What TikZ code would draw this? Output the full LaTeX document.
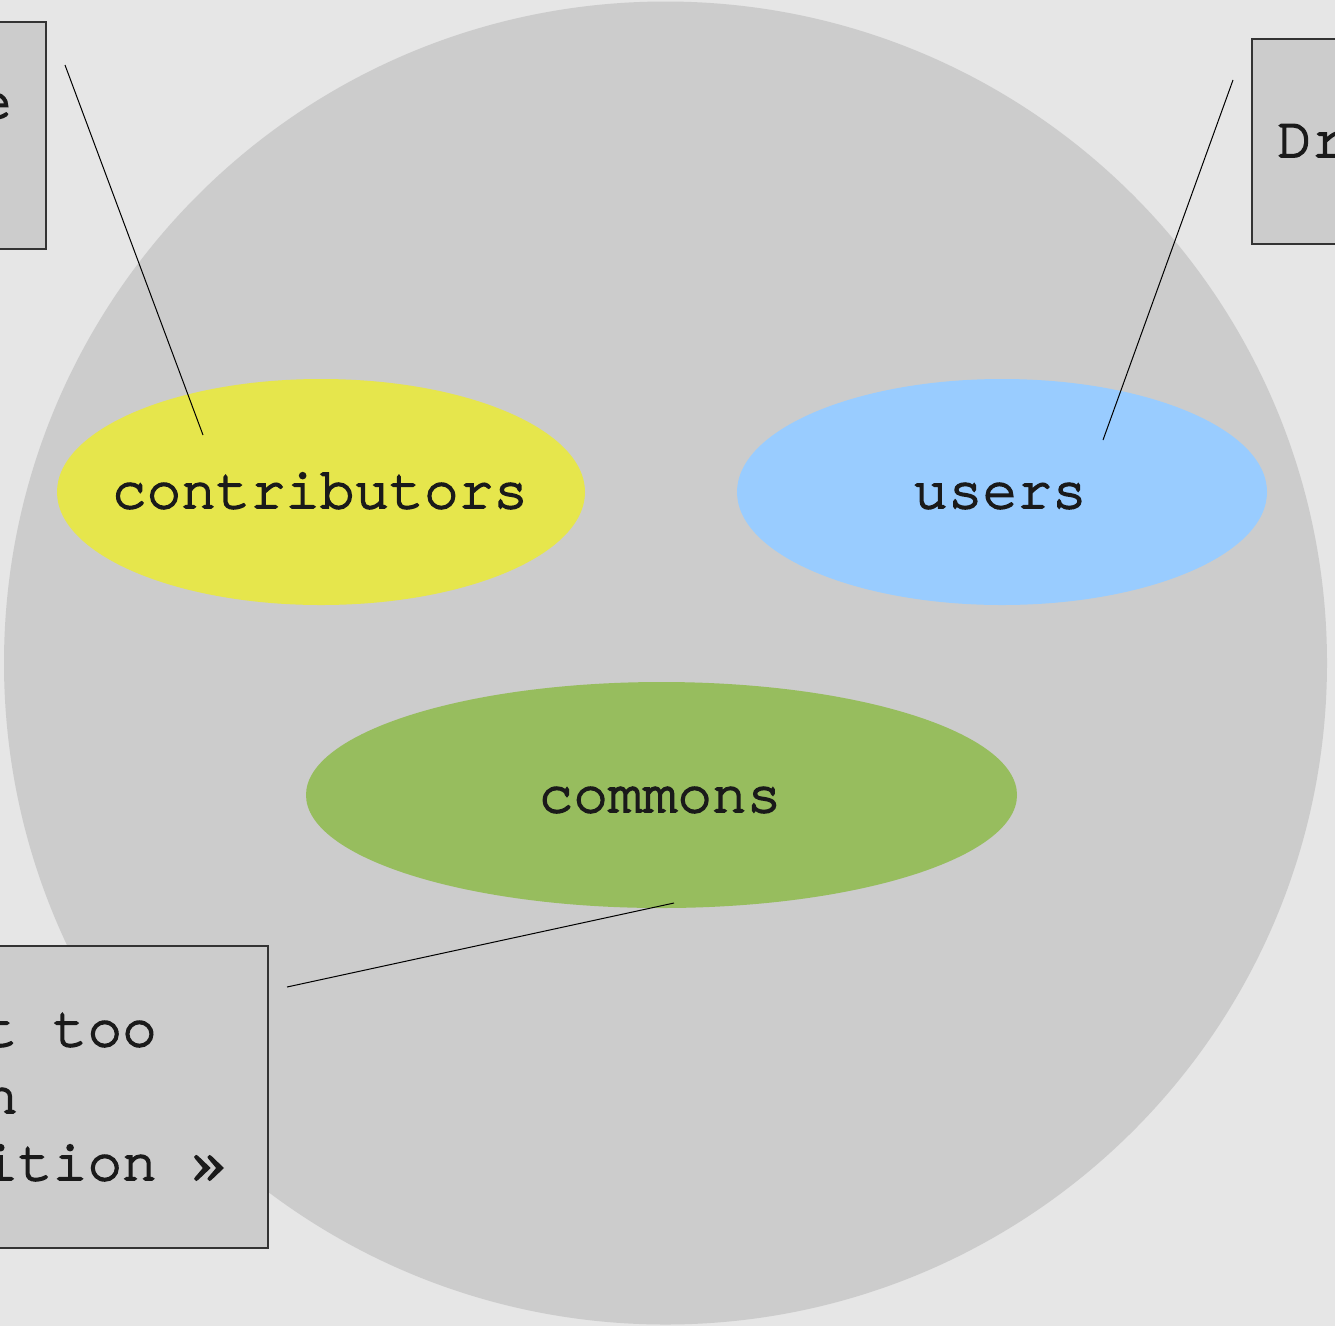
\documentclass[tikz,border=0pt]{standalone}
\usepackage{fontspec}
\newfontfamily\labelfont[FakeBold=3]{TeX Gyre Cursor}
\definecolor{pagebg}{HTML}{E6E6E6}
\definecolor{disc}{HTML}{CCCCCC}
\definecolor{contribfill}{HTML}{E6E64C}
\definecolor{usersfill}{HTML}{99CCFF}
\definecolor{commonsfill}{HTML}{97BD5E}
\definecolor{ink}{HTML}{1A1A1A}
\definecolor{boxline}{HTML}{333333}
\usetikzlibrary{shapes.geometric}
\tikzset{
  group/.style={ellipse, draw=none, inner sep=0pt},
  label text/.style={font=\labelfont\fontsize{57.8}{67.5}\selectfont, text=ink, inner sep=0pt, anchor=base},
  note box/.style={fill=disc, draw=boxline, line width=1.2pt},
  note text/.style={label text, anchor=base west},
  callout/.style={draw=black, line width=1pt}
}
\begin{document}
\begin{tikzpicture}[x=1pt,y=-1pt]
  \useasboundingbox (0,0) rectangle (1335,1326);
  \fill[pagebg] (0,0) rectangle (1335,1326);
  % large disc holding the three groups
  \fill[disc] (665.5,663) circle[radius=661.5];

  % groups
  \fill[contribfill] (321,492) ellipse[x radius=264, y radius=113];
  \fill[usersfill] (1002,492) ellipse[x radius=265, y radius=113];
  \fill[commonsfill] (661.5,795) ellipse[x radius=355.5, y radius=113];
  \node[label text] (contrib) at (320,508) {contributors};
  \node[label text] (users) at (1000,508) {users};
  \node[label text] (commons) at (660,812) {commons};

  % note boxes
  \draw[note box] (-20,22) rectangle (46,249);
  \node[note text] (noteA) at (-22.7,118) {e};
  \draw[note box] (1252,39) rectangle (1360,244);
  \node[note text] (noteB) at (1277,157) {Dr};
  \draw[note box] (-20,946) rectangle (268,1248);
  \node[note text] (noteC1) at (-16.8,1046) {t too};
  \node[note text] (noteC2) at (-16.8,1113) {n};
  \node[note text] (noteC3) at (-16.8,1180) {ition »};

  % callout lines
  \coordinate (a1) at (65,65);
  \coordinate (a2) at (203,435);
  \coordinate (b1) at (1233,80);
  \coordinate (b2) at (1103,440);
  \coordinate (c1) at (287,987);
  \coordinate (c2) at (674,903);
  \draw[callout] (a1) -- (a2);
  \draw[callout] (b1) -- (b2);
  \draw[callout] (c1) -- (c2);
\end{tikzpicture}
\end{document}
